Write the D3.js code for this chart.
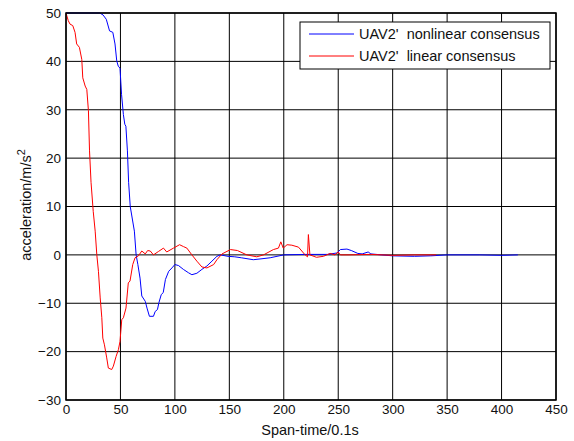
<!DOCTYPE html>
<html>
<head>
<meta charset="utf-8">
<script src="https://cdn.jsdelivr.net/npm/d3@7"></script>
<style>
  body { margin: 0; background: #fff; }
  svg { font-family: Arial, "Liberation Sans", sans-serif; }
  .grid line { stroke: #000; stroke-width: 1; }
</style>
</head>
<body>
<div id="chart"></div>
<script>
// time in 0.1s, acceleration in m/s^2
var nonlinearT = [0,31,34,37,40,43,45,46.6,48,49.6,51,52.7,54,55,56.4,57.5,59,62.8,64.4,66,68,69.6,72.8,74.4,76.6,80.3,81.9,84,85.3,87.5,89.3,91.3,94.3,97.3,100,103.3,107.8,112.5,115.6,120.2,124.8,129.4,134,138.6,141.7,148.8,155,161,172,180,187.5,200,221,240,249,252,258,262,268,272,277.5,280,290,300,320,335,350,380,400,415];
var nonlinearV = [50,50,49.6,48.7,46.3,46,43.6,40.1,39,38.6,33.2,29,27,26.6,21.5,15,10,4.9,0,-2,-4.8,-8.5,-9.6,-11,-12.7,-12.7,-11.7,-11.3,-9.9,-8.2,-7.8,-5.1,-3.4,-2.7,-2,-2.2,-3,-3.7,-4.1,-3.8,-3,-2.3,-1.3,-0.3,0,-0.3,-0.4,-0.6,-1,-0.8,-0.6,0,0.1,0.1,0.4,1.1,1.2,0.9,0.3,0.2,0.6,0.2,0,-0.2,-0.3,-0.2,0,0,-0.1,0];

var linearT = [0,2.1,3.7,6.2,8.3,9.8,12.3,14.5,15.4,17.6,19.1,20.6,21.6,23,25,26.8,28.3,29.8,31.4,32.9,33.8,35.3,37.4,38.9,42,43.5,46,48.1,49.6,51.2,52.7,55.1,57.2,58.8,61.3,63.4,66.5,69.6,72.8,75,77.4,80.3,84.9,89.5,92.5,98.7,104.3,108,111,115.6,120.2,124.8,129.4,135.6,138.6,143.3,151.1,157.4,166,175.2,181.4,190.5,195.1,197.3,199.5,203,207.4,213.5,219.6,221.8,222.6,224,230,236.4,242.6,247,250,252,260,280,300,320,340];
var linearV = [50,48.4,47.7,47.4,46,43.6,42.9,40.4,36.6,34.9,34.2,29.8,21.5,15,9,4.9,0,-3.4,-8.9,-13,-17.2,-18.6,-21.3,-23.4,-23.7,-23,-21,-19.6,-17.9,-13.4,-13,-11,-5.8,-5.4,-2,-0.6,-0.2,0.8,0.2,0.9,0.8,0,0.7,1.4,0.6,1.4,2.1,1.7,1.4,0,-1.3,-2.5,-2.7,-2,-1,0.2,1.1,0.9,0,-0.4,0,1.1,1.4,2.7,1.4,2.1,2,1.6,0,-0.4,4.2,0,-0.5,-0.3,0.3,0,0.6,0,0,0.1,-0.1,0,0];

var xTicks = [0,50,100,150,200,250,300,350,400,450];
var yTicks = [-30,-20,-10,0,10,20,30,40,50];
var seriesNames = ["UAV2'  nonlinear consensus", "UAV2'  linear consensus"];
var seriesColors = ["#0000ff", "#ff0000"];

var W = 574, H = 441;
var pLeft = 66, pRight = 556, pTop = 13, pBottom = 400;

var svg = d3.select('#chart').append('svg')
  .attr('width', W).attr('height', H);

var x = d3.scaleLinear().domain([0, 450]).range([pLeft, pRight]);
var y = d3.scaleLinear().domain([-30, 50]).range([pBottom, pTop]);

// grid
var grid = svg.append('g').attr('class', 'grid');
grid.selectAll('.gx').data(xTicks).enter().append('line')
  .attr('x1', function(d) { return x(d); }).attr('x2', function(d) { return x(d); })
  .attr('y1', pTop).attr('y2', pBottom);
grid.selectAll('.gy').data(yTicks).enter().append('line')
  .attr('y1', function(d) { return y(d); }).attr('y2', function(d) { return y(d); })
  .attr('x1', pLeft).attr('x2', pRight);

// curves
var line = d3.line()
  .x(function(d) { return x(d[0]); })
  .y(function(d) { return y(d[1]); });

var series = [
  d3.zip(nonlinearT, nonlinearV),
  d3.zip(linearT, linearV)
];

svg.append('clipPath').attr('id', 'clip').append('rect')
  .attr('x', pLeft).attr('y', pTop - 1).attr('width', pRight - pLeft).attr('height', pBottom - pTop + 2);

svg.append('g').attr('clip-path', 'url(#clip)')
  .selectAll('path').data(series).enter().append('path')
  .attr('d', line)
  .attr('fill', 'none')
  .attr('stroke', function(d, i) { return seriesColors[i]; })
  .attr('stroke-width', 1);

// frame
svg.append('rect')
  .attr('x', pLeft).attr('y', pTop).attr('width', pRight - pLeft).attr('height', pBottom - pTop)
  .attr('fill', 'none').attr('stroke', '#000').attr('stroke-width', 1.5);

// axes
var xAxis = svg.append('g').attr('transform', 'translate(0,' + pBottom + ')')
  .call(d3.axisBottom(x).tickValues(xTicks).tickSize(0).tickPadding(4));
var yAxis = svg.append('g').attr('transform', 'translate(' + pLeft + ',0)')
  .call(d3.axisLeft(y).tickValues(yTicks).tickSize(0).tickPadding(5));
[xAxis, yAxis].forEach(function(a) {
  a.select('.domain').remove();
  a.selectAll('text').attr('font-size', 13.5).attr('fill', '#111')
    .attr('font-family', 'Arial, "Liberation Sans", sans-serif');
});

// axis titles
svg.append('text')
  .attr('x', 310).attr('y', 435)
  .attr('text-anchor', 'middle').attr('font-size', 14.5).attr('fill', '#111')
  .text('Span-time/0.1s');

var yl = svg.append('text')
  .attr('transform', 'translate(31,205) rotate(-90)')
  .attr('text-anchor', 'middle').attr('font-size', 14.5).attr('fill', '#111');
yl.append('tspan').text('acceleration/m/s');
yl.append('tspan').attr('dy', -6).attr('font-size', 11).text('2');

// legend
var lg = svg.append('g').attr('transform', 'translate(300,22)');
lg.append('rect').attr('width', 250).attr('height', 47)
  .attr('fill', '#fff').attr('stroke', '#000').attr('stroke-width', 1);
var item = lg.selectAll('.item').data(seriesNames).enter().append('g')
  .attr('transform', function(d, i) { return 'translate(0,' + (12 + i * 22) + ')'; });
item.append('line')
  .attr('x1', 9).attr('x2', 54).attr('y1', 0).attr('y2', 0)
  .attr('stroke', function(d, i) { return seriesColors[i]; }).attr('stroke-width', 1);
item.append('text')
  .attr('x', 59).attr('y', 5)
  .attr('font-size', 14.5).attr('fill', '#111')
  .style('white-space', 'pre')
  .text(function(d) { return d; });
</script>
</body>
</html>
